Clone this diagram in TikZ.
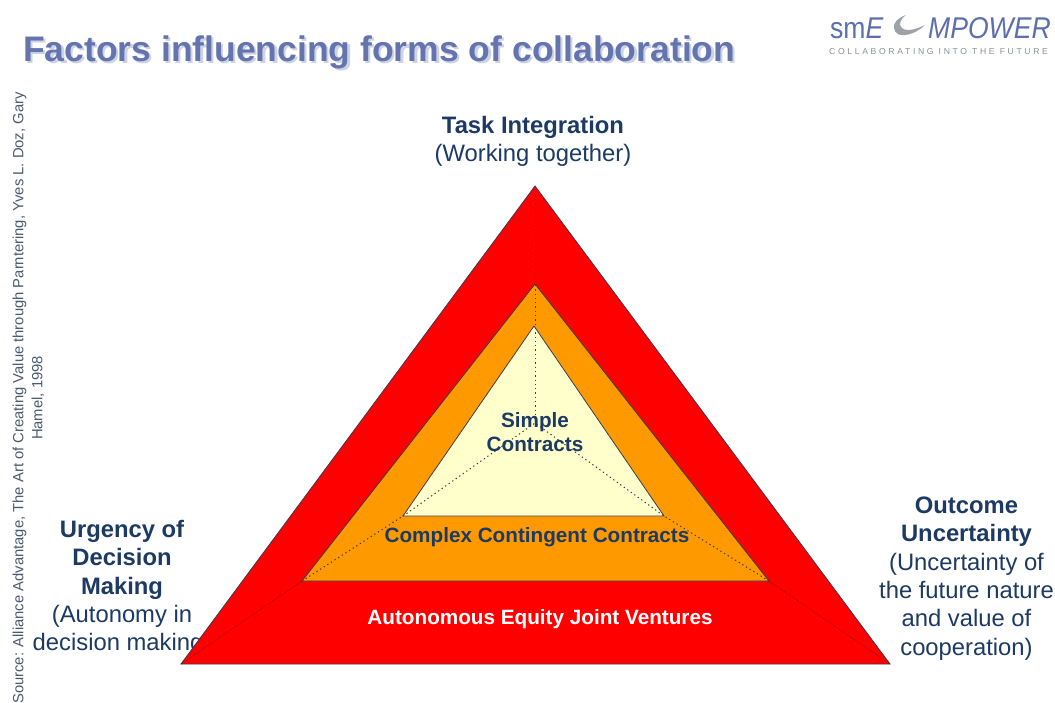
\documentclass[tikz,border=0pt]{standalone}
\usepackage{fontspec}
\setmainfont{Liberation Sans}
\newfontfamily\logofont[LetterSpace=31]{Liberation Sans}
\definecolor{navy}{HTML}{1C3A63}
\definecolor{titleblue}{HTML}{6474AE}
\definecolor{titleshade}{HTML}{CDD3E4}
\definecolor{logoblue}{HTML}{5C6FAE}
\definecolor{logogray}{HTML}{8A8F98}
\definecolor{crescent}{HTML}{9EA2A8}
\definecolor{srcgray}{HTML}{4A5A70}
\definecolor{outer}{HTML}{FF0000}
\definecolor{middle}{HTML}{FF9900}
\definecolor{inner}{HTML}{FFFFCC}
\definecolor{edge}{HTML}{3A3A50}
\newcommand{\softshadow}[1]{\rlap{\kern2.2pt\raisebox{-2.2pt}{\textcolor{titleshade}{#1}}}#1}
\tikzset{
  x=1pt,y=-1pt,
  factor/.style={font=\fontsize{23.8}{28.3}\selectfont,text=navy,align=center,inner sep=0},
  inlabel/.style={font=\fontsize{20.7}{24}\selectfont\bfseries,text=navy,align=center,inner sep=0},
  band/.style={draw=edge,line width=0.8pt,line join=miter},
  guide/.style={draw=edge,line width=1pt,dash pattern=on 1.3pt off 3pt},
  guidered/.style={draw=black!45!red,line width=0.6pt,densely dotted},
}
\begin{document}
\begin{tikzpicture}
\useasboundingbox (0,0) rectangle (1055,702);
\fill[white] (0,0) rectangle (1055,702);
% title
\node[anchor=west,inner sep=0,font=\fontsize{35.5}{42}\selectfont\bfseries,text=titleblue] (title) at (23,53) {\softshadow{Factors influencing forms of collaboration}};
% logo
\node[anchor=base west,inner sep=0,font=\fontsize{30}{31}\selectfont,text=logoblue,xscale=.886,transform shape] (logoa) at (830,38) {sm\textit{E}};
\node[anchor=base west,inner sep=0,font=\fontsize{30}{31}\selectfont\itshape,text=logoblue,xscale=.886,transform shape] (logob) at (928,38) {MPOWER};
\fill[crescent] (906,15) .. controls (897,18) and (893,24) .. (894,28) .. controls (895,34) and (900,36) .. (905,35)
  .. controls (913,34) and (920,30) .. (925,25)
  .. controls (919,28) and (913,30) .. (908,30) .. controls (903,30) and (900,27) .. (900,24) .. controls (900,21) and (903,17) .. (906,15) -- cycle;
\node[anchor=base west,inner sep=0,font=\logofont\fontsize{8.6}{10}\selectfont,text=logogray] (tagline) at (829,54) {COLLABORATING INTO THE FUTURE};
% source
\node[rotate=90,align=center,inner sep=0,font=\fontsize{14.8}{19}\selectfont,text=srcgray] (source) at (28.5,398) {Source: Alliance Advantage, The Art of Creating Value through Parntering, Yves L. Doz, Gary\\Hamel, 1998};
% side labels
\node[factor] (top) at (533,141.5) {\textbf{Task Integration}\\(Working together)};
\node[factor] (left) at (122,588) {\textbf{Urgency of}\\\textbf{Decision}\\\textbf{Making}\\(Autonomy in\\decision making)};
\node[factor] (right) at (966.5,578.5) {\textbf{Outcome}\\\textbf{Uncertainty}\\(Uncertainty of\\the future nature\\and value of\\cooperation)};
% triangles
\coordinate (oa) at (535,186); \coordinate (ol) at (181,664); \coordinate (or) at (890,664);
\coordinate (ma) at (535,284); \coordinate (ml) at (302,581); \coordinate (mr) at (769,581);
\coordinate (ia) at (534,326); \coordinate (il) at (403,516); \coordinate (ir) at (664,516);
\coordinate (c) at (535,423);
\draw[band,fill=outer] (oa) -- (or) -- (ol) -- cycle;
\draw[band,fill=middle] (ma) -- (mr) -- (ml) -- cycle;
\draw[band,fill=inner] (ia) -- (ir) -- (il) -- cycle;
\draw[guide] (oa) -- (c);
\draw[guide] (il) -- (c) -- (ir);
\draw[guide] (ml) -- (il);
\draw[guide] (mr) -- (ir);
\draw[guidered] (ol) -- (ml);
\draw[guidered] (or) -- (mr);
% inner labels
\node[inlabel] (simple) at (535,432.5) {Simple\\Contracts};
\node[inlabel] (complex) at (537,537) {Complex Contingent Contracts};
\node[inlabel,text=white] (joint) at (540,619) {Autonomous Equity Joint Ventures};
\end{tikzpicture}
\end{document}
